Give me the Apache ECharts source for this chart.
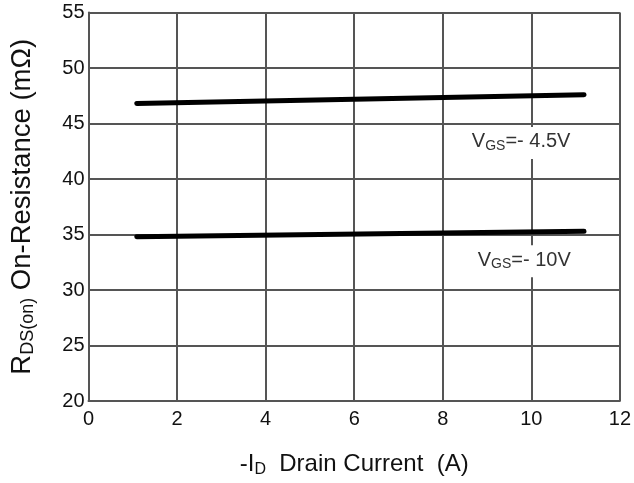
<!DOCTYPE html>
<html><head><meta charset="utf-8">
<script src="https://cdn.jsdelivr.net/npm/echarts@6/dist/echarts.min.js"></script>
<style>html,body{margin:0;padding:0;background:#fff}#c{width:634px;height:483px}</style>
</head><body><div id="c"></div>
<script>
const xTicks = [0, 2, 4, 6, 8, 10, 12];
const yTicks = [20, 25, 30, 35, 40, 45, 50, 55];
const current = [1.09, 11.19];
const rds45 = [46.8, 47.6];
const rds10 = [34.8, 35.3];
const labels = [
  {sub: 'GS', text: '=- 4.5V', x: 9.77, y: 43.25},
  {sub: 'GS', text: '=- 10V', x: 9.84, y: 32.6}
];
const chart = echarts.init(document.getElementById('c'), null, {renderer: 'canvas'});
const font = 'Liberation Sans, Arial, sans-serif';
const mkLabel = l => ({
  coord: [l.x, l.y], symbolSize: 0,
  label: {show: true, position: 'inside',
    formatter: '{a|V}{b|' + l.sub + '}{a|' + l.text + '}',
    backgroundColor: '#fff', padding: [4, 3, 6, 3],
    rich: {a: {fontSize: 20, color: '#333', fontFamily: font},
           b: {fontSize: 14, color: '#333', fontFamily: font, verticalAlign: 'bottom', padding: [8, 0, 0, 0]}}}
});
chart.setOption({
  animation: false,
  backgroundColor: '#fff',
  grid: {left: 87, right: 9, top: 12.5, bottom: 79.5},
  xAxis: {type: 'value', min: xTicks[0], max: xTicks[xTicks.length - 1], interval: xTicks[1] - xTicks[0],
    axisLine: {show: true, lineStyle: {color: '#555', width: 2}},
    axisTick: {show: false},
    splitLine: {show: true, lineStyle: {color: '#555', width: 2}},
    axisLabel: {color: '#111', fontSize: 20, fontFamily: font, margin: 8},
    name: '{a|-I}{b|D}{a|  Drain Current  (A)}', nameLocation: 'middle', nameGap: 49,
    nameTextStyle: {rich: {a: {fontSize: 24, color: '#111', fontFamily: font},
                           b: {fontSize: 16, color: '#111', fontFamily: font, verticalAlign: 'bottom', padding: [12, 0, 0, 0]}}}
  },
  yAxis: {type: 'value', min: yTicks[0], max: yTicks[yTicks.length - 1], interval: yTicks[1] - yTicks[0],
    axisLine: {show: true, lineStyle: {color: '#555', width: 2}},
    axisTick: {show: false},
    splitLine: {show: true, lineStyle: {color: '#555', width: 2}},
    axisLabel: {color: '#111', fontSize: 20, fontFamily: font, margin: 4},
    name: '{a|R}{b|DS(on)}{a| On-Resistance (mΩ)}', nameLocation: 'middle', nameGap: 51,
    nameTextStyle: {rich: {a: {fontSize: 27.5, color: '#111', fontFamily: font},
                           b: {fontSize: 18, color: '#111', fontFamily: font, verticalAlign: 'bottom', padding: [13, 0, 0, 0]}}}
  },
  series: [
    {type: 'line', data: current.map((x, i) => [x, rds45[i]]), symbol: 'none',
     lineStyle: {color: '#000', width: 5, cap: 'round'},
     markPoint: {symbol: 'circle', data: [mkLabel(labels[0])]}},
    {type: 'line', data: current.map((x, i) => [x, rds10[i]]), symbol: 'none',
     lineStyle: {color: '#000', width: 5, cap: 'round'},
     markPoint: {symbol: 'circle', data: [mkLabel(labels[1])]}}
  ]
});
</script></body></html>
